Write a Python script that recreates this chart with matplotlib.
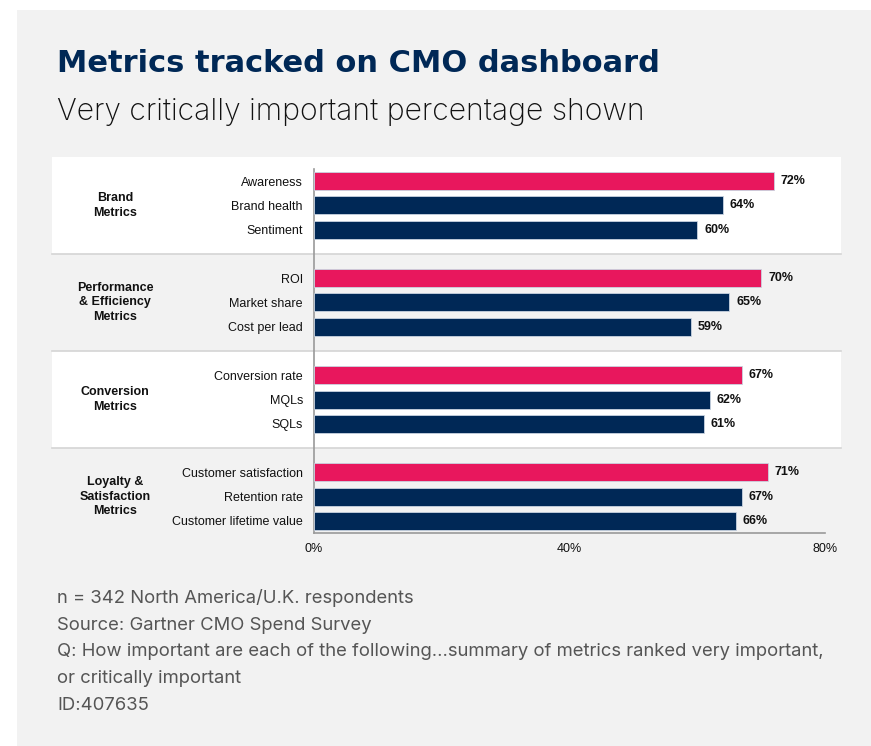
import matplotlib
matplotlib.use("Agg")
import matplotlib.pyplot as plt
from matplotlib.patches import Rectangle
from matplotlib.transforms import blended_transform_factory

# data
groups = ["Brand\nMetrics", "Performance\n& Efficiency\nMetrics",
          "Conversion\nMetrics", "Loyalty &\nSatisfaction\nMetrics"]
metrics = [
    ["Awareness", "Brand health", "Sentiment"],
    ["ROI", "Market share", "Cost per lead"],
    ["Conversion rate", "MQLs", "SQLs"],
    ["Customer satisfaction", "Retention rate", "Customer lifetime value"],
]
values = [
    [72, 64, 60],
    [70, 65, 59],
    [67, 62, 61],
    [71, 67, 66],
]
xticks = [0, 40, 80]

title = "Metrics tracked on CMO dashboard"
subtitle = "Very critically important percentage shown"
notes = [
    "n = 342 North America/U.K. respondents",
    "Source: Gartner CMO Spend Survey",
    "Q: How important are each of the following...summary of metrics ranked very important,",
    "or critically important",
    "ID:407635",
]

PINK = "#e8175d"
NAVY = "#002856"
BG = "#f2f2f2"

fig = plt.figure(figsize=(8.71, 7.46), dpi=100)
fig.patch.set_facecolor(BG)
# white strips at left and top
fig.patches.append(Rectangle((0, 0), 17 / 871, 1, transform=fig.transFigure,
                             facecolor="white", edgecolor="none", zorder=-10))
fig.patches.append(Rectangle((0, 1 - 10 / 746), 1, 10 / 746, transform=fig.transFigure,
                             facecolor="white", edgecolor="none", zorder=-10))

fig.text(57 / 871, 1 - 72 / 746, title, fontsize=22, fontweight="bold",
         color=NAVY, va="baseline", ha="left")
fig.text(57 / 871, 1 - 120 / 746, subtitle, fontsize=21.7, fontweight="light",
         family="Inter", color="#111111", va="baseline", ha="left")

ax = fig.add_axes([314 / 871, 1 - 533 / 746, 511 / 871, 364 / 746])
ax.set_facecolor("none")

# positions: 3 rows per group, one empty slot between groups
ypos, labels, vals, cols, centers = [], [], [], [], []
for g in range(len(groups)):
    for i in range(3):
        ypos.append(g * 4 + i)
        labels.append(metrics[g][i])
        vals.append(values[g][i])
        cols.append(PINK if i == 0 else NAVY)
    centers.append(g * 4 + 1)

ax.barh(ypos, vals, height=0.74, color=cols, edgecolor="#c9d3e0", linewidth=0.6, zorder=3)
for y, v in zip(ypos, vals):
    ax.annotate(f"{v}%", (v, y), xytext=(5, 0), textcoords="offset points",
                ha="left", va="center", fontsize=9, fontweight="bold",
                family="Liberation Sans", color="#111111")

ax.set_ylim(14.5, -0.5)
ax.set_xlim(0, 80)
ax.set_yticks(ypos)
ax.set_yticklabels(labels, family="Liberation Sans", fontsize=9, color="#111111")
ax.set_xticks(xticks)
ax.set_xticklabels([f"{t}%" for t in xticks], family="Liberation Sans", fontsize=9,
                   color="#111111")
ax.tick_params(axis="y", length=0, pad=8)
ax.tick_params(axis="x", length=0, pad=7)
for s in ["top", "right"]:
    ax.spines[s].set_visible(False)
for s in ["left", "bottom"]:
    ax.spines[s].set_color("#9a9a9a")
    ax.spines[s].set_linewidth(1.2)

# group bands
tr = blended_transform_factory(fig.transFigure, ax.transData)
x0, x1 = 52 / 871, 841 / 871
for g in range(len(groups)):
    top = g * 4 - 1
    if g % 2 == 0:
        ax.add_patch(Rectangle((x0, top), x1 - x0, 4, transform=tr, facecolor="white",
                               edgecolor="none", clip_on=False, zorder=0))
    if g > 0:
        ax.plot([x0, x1], [top, top], transform=tr, color="#d4d4d4", lw=1.2,
                clip_on=False, zorder=1)
    ax.text(115 / 871, centers[g], groups[g], transform=tr, ha="center", va="center",
            fontsize=9, fontweight="bold", family="Liberation Sans", color="#111111",
            linespacing=1.25)

for i, line in enumerate(notes):
    fig.text(57 / 871, 1 - (603 + i * 26.7) / 746, line, fontsize=13.3,
             family="Inter", color="#555555", va="baseline", ha="left")

fig.savefig("out.png", dpi=100, facecolor=fig.get_facecolor())
